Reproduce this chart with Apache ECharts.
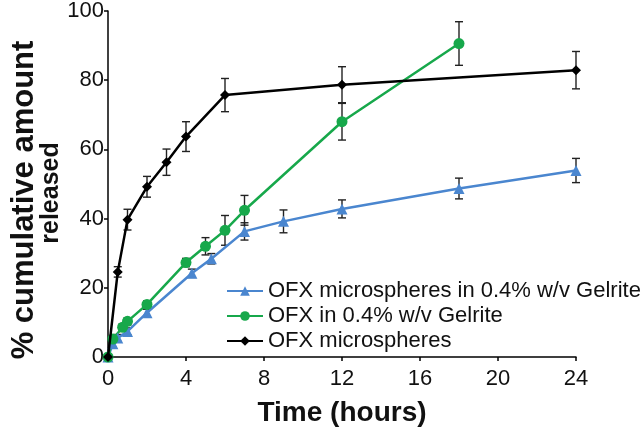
<!DOCTYPE html>
<html>
<head>
<meta charset="utf-8">
<script src="https://cdn.jsdelivr.net/npm/echarts@6/dist/echarts.min.js"></script>
<style>html,body{margin:0;padding:0;background:#fff;}#c{width:644px;height:432px;}</style>
</head>
<body>
<div id="c"></div>
<script>
// ---- data ----
var xTicks = [0, 4, 8, 12, 16, 20, 24];
var yTicks = [0, 20, 40, 60, 80, 100];
var seriesNames = ['OFX microspheres in 0.4% w/v Gelrite', 'OFX in 0.4% w/v Gelrite', 'OFX microspheres'];

var blueTime = [0, 0.25, 0.5, 1, 2, 4.3, 5.3, 7, 9, 12, 18, 24];
var blueVal  = [0, 3.8, 5.5, 7.4, 12.8, 24.2, 28.4, 36.3, 39.2, 42.8, 48.7, 53.9];
var blueErr  = [0, 1, 1, 1, 1, 1.2, 1.5, 2.5, 3.3, 2.6, 3, 3.5];

var greenTime = [0, 0.25, 0.75, 1, 2, 4, 5, 6, 7, 12, 18];
var greenVal  = [0, 5.2, 8.6, 10.3, 15.2, 27.3, 32, 36.6, 42.4, 68, 90.6];
var greenErr  = [0, 1, 1, 1, 1, 1.2, 2.5, 4.3, 4.3, 5.3, 6.3];

var blackTime = [0, 0.5, 1, 2, 3, 4, 6, 12, 24];
var blackVal  = [0, 24.6, 39.7, 49.2, 56.3, 63.7, 75.7, 78.7, 82.9];
var blackErr  = [0, 1.5, 3, 3, 3.8, 4.3, 4.8, 5.2, 5.4];

var colors = ['#4a86cf', '#17a84b', '#000000'];

function pairs(t, v) { return t.map(function (x, i) { return [x, v[i]]; }); }
function errData(t, v, e) { return t.map(function (x, i) { return [x, v[i] - e[i], v[i] + e[i]]; }); }

function errRender(params, api) {
  var x = api.value(0), lo = api.value(1), hi = api.value(2);
  if (hi - lo <= 0) return null;
  var pLo = api.coord([x, lo]), pHi = api.coord([x, hi]);
  var w = 4;
  var st = { stroke: '#222', lineWidth: 1.4 };
  return {
    type: 'group',
    children: [
      { type: 'line', shape: { x1: pLo[0], y1: pLo[1], x2: pHi[0], y2: pHi[1] }, style: st },
      { type: 'line', shape: { x1: pLo[0] - w, y1: pLo[1], x2: pLo[0] + w, y2: pLo[1] }, style: st },
      { type: 'line', shape: { x1: pHi[0] - w, y1: pHi[1], x2: pHi[0] + w, y2: pHi[1] }, style: st }
    ]
  };
}

var chart = echarts.init(document.getElementById('c'), null, { renderer: 'canvas' });
var font = 'Liberation Sans, Arial, sans-serif';

var option = {
  animation: false,
  backgroundColor: '#fff',
  grid: { left: 108, right: 68, top: 9, bottom: 62, containLabel: false },
  xAxis: {
    type: 'value', min: xTicks[0], max: xTicks[xTicks.length - 1], interval: 4,
    axisLine: { lineStyle: { color: '#000', width: 1.5 } },
    axisTick: { show: true, length: 4, lineStyle: { color: '#000', width: 1.5 } },
    axisLabel: { color: '#111', fontSize: 22, fontFamily: font, margin: 11 },
    splitLine: { show: false },
    name: 'Time (hours)', nameLocation: 'middle', nameGap: 42,
    nameTextStyle: { color: '#111', fontSize: 28, fontWeight: 'bold', fontFamily: font }
  },
  yAxis: {
    type: 'value', min: yTicks[0], max: yTicks[yTicks.length - 1], interval: 20,
    axisLine: { show: true, lineStyle: { color: '#000', width: 1.5 } },
    axisTick: { show: true, length: 4, lineStyle: { color: '#000', width: 1.5 } },
    axisLabel: { color: '#111', fontSize: 22, fontFamily: font, margin: 4 },
    splitLine: { show: false }
  },
  legend: {
    orient: 'vertical', left: 221, top: 275,
    itemWidth: 36, itemHeight: 12, itemGap: 3,
    textStyle: { fontSize: 22, color: '#111', fontFamily: font },
    data: seriesNames
  },
  graphic: [
    { type: 'text', x: 24, y: 200, rotation: Math.PI / 2,
      style: { text: '% cumulative amount', fontSize: 31, fontWeight: 'bold', fontFamily: font,
               fill: '#111', align: 'center', verticalAlign: 'middle' } },
    { type: 'text', x: 51, y: 193, rotation: Math.PI / 2,
      style: { text: 'released', fontSize: 25, fontWeight: 'bold', fontFamily: font,
               fill: '#111', align: 'center', verticalAlign: 'middle' } }
  ],
  series: [
    { type: 'custom', renderItem: errRender, data: errData(blueTime, blueVal, blueErr), z: 1, silent: true },
    { type: 'custom', renderItem: errRender, data: errData(greenTime, greenVal, greenErr), z: 1, silent: true },
    { type: 'custom', renderItem: errRender, data: errData(blackTime, blackVal, blackErr), z: 1, silent: true },
    { name: seriesNames[0], type: 'line', data: pairs(blueTime, blueVal), color: colors[0],
      symbol: 'triangle', symbolSize: 11, lineStyle: { width: 2.5 }, z: 3 },
    { name: seriesNames[1], type: 'line', data: pairs(greenTime, greenVal), color: colors[1],
      symbol: 'circle', symbolSize: 11, lineStyle: { width: 2.5 }, z: 3 },
    { name: seriesNames[2], type: 'line', data: pairs(blackTime, blackVal), color: colors[2],
      symbol: 'diamond', symbolSize: 10, lineStyle: { width: 2.5 }, z: 4 }
  ]
};
chart.setOption(option);
</script>
</body>
</html>
